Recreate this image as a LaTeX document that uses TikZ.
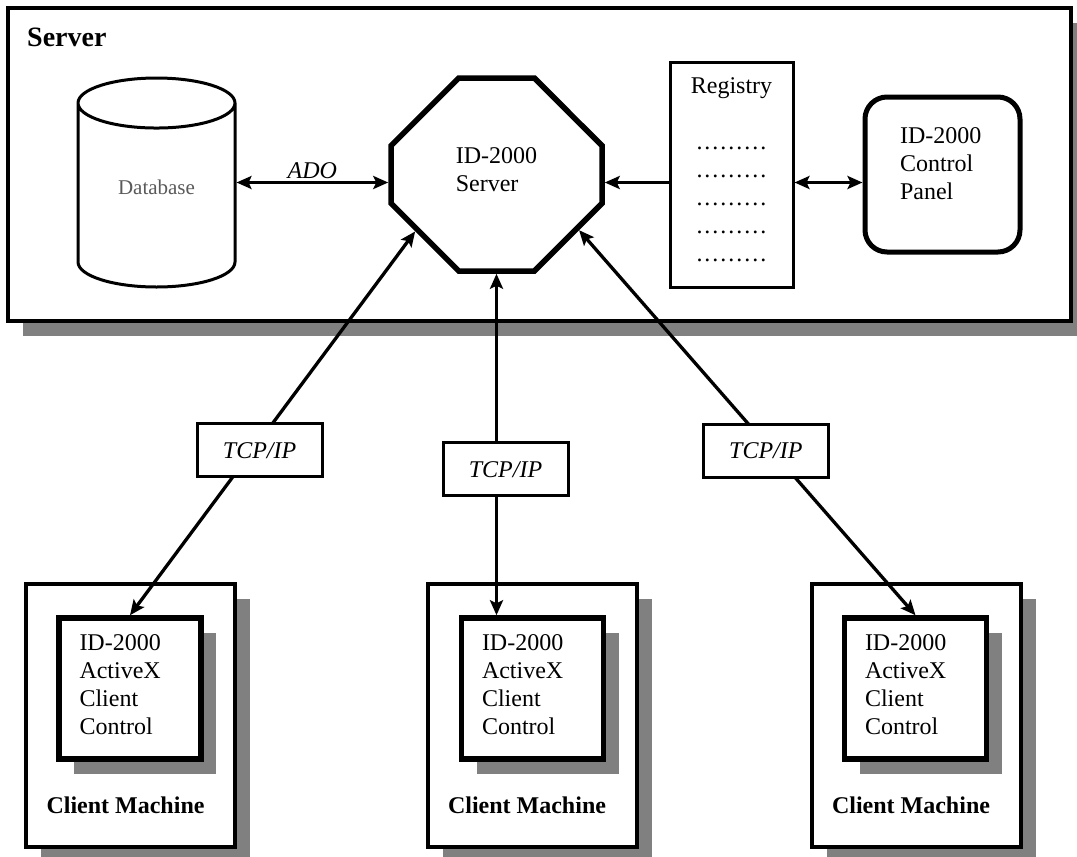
\documentclass[tikz,border=0pt]{standalone}
\usepackage{fontspec}
\setmainfont{Liberation Serif}
\usepackage{tikz}
\usetikzlibrary{arrows.meta,positioning,shapes.geometric,shapes.misc,shadows}
\definecolor{shadowgray}{HTML}{808080}
\definecolor{dbtext}{HTML}{5A5A5A}
\newcommand{\regdots}{\foreach \k in {1,...,9}{\makebox[8pt]{.}}}

\begin{document}
\begin{tikzpicture}[x=1pt,y=-1pt,
  >={Stealth[length=15pt,width=13pt,inset=3pt]},
  txt/.style={font=\fontsize{24}{28}\selectfont},
  shd/.style={drop shadow={shadow xshift=15pt,shadow yshift=-15pt,fill=shadowgray,opacity=1}},
  box/.style={draw,fill=white,inner sep=0pt},
  srvbox/.style={box,line width=3.5pt,minimum width=1063pt,minimum height=313pt,shd},
  title/.style={inner sep=0pt,font=\fontsize{28}{32}\selectfont\bfseries},
  dbase/.style={draw,fill=white,cylinder,shape border rotate=90,aspect=0.65,line width=3pt,minimum width=157pt,minimum height=209pt,inner sep=0pt,text depth=18pt,font=\fontsize{21}{25}\selectfont,text=dbtext},
  octa/.style={box,chamfered rectangle,chamfered rectangle xsep=57pt,chamfered rectangle ysep=57pt,line width=5.5pt,minimum width=211pt,minimum height=193pt,txt,align=left,text depth=10pt},
  reg/.style={box,line width=3pt,minimum width=123pt,minimum height=225pt,txt,align=center,text depth=9pt},
  panel/.style={box,rounded corners=22pt,line width=5pt,minimum width=155pt,minimum height=155pt,txt,align=left,text width=85pt,text depth=77pt},
  cmach/.style={box,line width=4pt,minimum width=209pt,minimum height=263pt,shd},
  client/.style={box,line width=5.5pt,minimum width=142pt,minimum height=141pt,txt,align=left,text width=101pt,text depth=91pt,shd},
  cmlabel/.style={inner sep=0pt,font=\fontsize{24}{28}\selectfont\bfseries},
  tcp/.style={box,line width=3pt,minimum width=125pt,minimum height=53pt,font=\fontsize{24}{28}\selectfont\itshape},
  ado/.style={inner sep=2pt,font=\fontsize{24}{28}\selectfont\itshape},
  arr/.style={line width=3.3pt,<->},
  arr1/.style={line width=3.3pt,->}]
  \useasboundingbox (0,0) rectangle (1077,857);
  \node[srvbox] (srvbox) at (539.5,164.5) {};
  \node[title,anchor=west] (title) at (27,37) {Server};
  \node[dbase,anchor=shape center] (db) at (156.5,182.5) {Database};
  \node[octa] (srv) at (496.5,174.5) {ID-2000\\Server};
  \node[reg] (reg) at (731.5,174.5) {Registry\\[28pt]\regdots\\\regdots\\\regdots\\\regdots\\\regdots};
  \node[panel] (cp) at (942.5,174.5) {ID-2000\\Control\\Panel};
  \draw[arr] (db.shape center -| db.east) -- node[ado,above] {ADO} (db.shape center -| srv.west);
  \draw[arr1] (reg.west |- db.shape center) -- (srv.east |- db.shape center);
  \draw[arr] (reg.east |- db.shape center) -- (cp.west |- db.shape center);
  \node[cmach] (cm1) at (130.5,715.5) {};
  \node[client] (ax1) at (130,688.5) {ID-2000\\ActiveX\\Client\\Control};
  \node[cmlabel] (lab1) at (125.5,805) {Client Machine};
  \node[cmach] (cm2) at (532,715.5) {};
  \node[client] (ax2) at (532.5,688.5) {ID-2000\\ActiveX\\Client\\Control};
  \node[cmlabel] (lab2) at (527,805) {Client Machine};
  \node[cmach] (cm3) at (916.5,715.5) {};
  \node[client] (ax3) at (915.5,688.5) {ID-2000\\ActiveX\\Client\\Control};
  \node[cmlabel] (lab3) at (911,805) {Client Machine};
  \draw[arr] (ax1.north) -- node[tcp,pos=.43,xshift=7pt] {TCP/IP} (srv.215);
  \draw[arr] (srv.south) -- node[tcp,pos=.573,xshift=9pt] {TCP/IP} (srv.south |- ax2.north);
  \draw[arr] (ax3.north) -- node[tcp,pos=.427,xshift=-6pt] {TCP/IP} (srv.-34);
\end{tikzpicture}
\end{document}
